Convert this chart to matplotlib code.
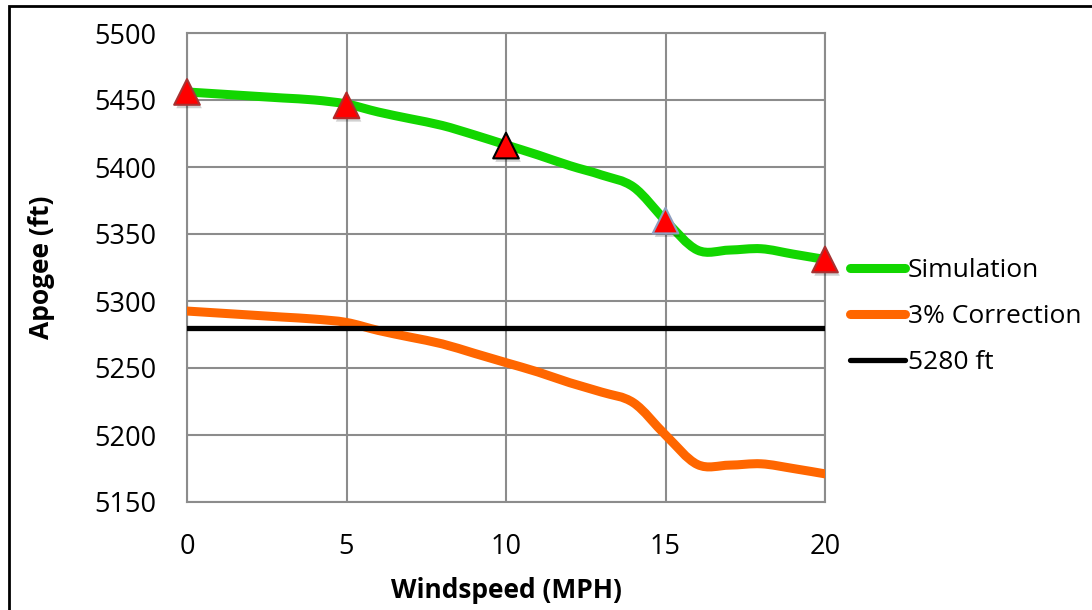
import matplotlib.pyplot as plt
import matplotlib.patheffects as pe
from matplotlib.patches import Rectangle, PathPatch
from matplotlib.path import Path
from matplotlib.lines import Line2D

plt.rcParams['font.family'] = ['Open Sans', 'DejaVu Sans']

# readings, one per mph
windspeed = list(range(21))
simulation = [5456, 5454.5, 5453, 5451.5, 5450, 5447, 5441, 5436, 5431, 5424,
              5416.5, 5409, 5401, 5394, 5385, 5360, 5338, 5338, 5339, 5335, 5331]
correction = [5292.5, 5291, 5289.5, 5288, 5286.5, 5284, 5278, 5273, 5268, 5261,
              5254, 5247, 5239, 5232, 5224, 5200, 5178, 5177.5, 5178.5, 5175, 5171]
target = 5280

# simulated points shown with markers
marker_x = [0, 5, 10, 15, 20]
marker_y = [5456, 5446, 5416, 5360, 5331]
marker_edges = ['#a83232', '#b02a2a', 'black', '#8f9fc0', '#a83232']

xticks = [0, 5, 10, 15, 20]
yticks = [5150, 5200, 5250, 5300, 5350, 5400, 5450, 5500]

GREEN = '#12d600'
ORANGE = '#ff6600'


def smooth_line(ax, x, y, color, lw):
    # Excel-style smoothed line: Catmull-Rom segments as cubic Beziers
    n = len(x)
    verts = [(x[0], y[0])]
    codes = [Path.MOVETO]
    for i in range(n - 1):
        a = max(i - 1, 0)
        d = min(i + 2, n - 1)
        c1 = (x[i] + (x[i + 1] - x[a]) / 6, y[i] + (y[i + 1] - y[a]) / 6)
        c2 = (x[i + 1] - (x[d] - x[i]) / 6, y[i + 1] - (y[d] - y[i]) / 6)
        verts += [c1, c2, (x[i + 1], y[i + 1])]
        codes += [Path.CURVE4] * 3
    ax.add_patch(PathPatch(Path(verts, codes), fill=False, edgecolor=color,
                           lw=lw, capstyle='round', joinstyle='round', zorder=3))


fig = plt.figure(figsize=(10.92, 6.10), dpi=100)
ax = fig.add_axes([187 / 1092, 1 - 502 / 610, 638 / 1092, 469 / 610])

grid = '#8c8c8c'
smooth_line(ax, windspeed, simulation, GREEN, 6.5)
smooth_line(ax, windspeed, correction, ORANGE, 6.5)
ax.plot([windspeed[0], windspeed[-1]], [target, target], color='black', lw=3.8,
        solid_capstyle='round', zorder=3)

ax.scatter(marker_x, marker_y, marker='^', s=340, c='red', edgecolors=marker_edges,
           linewidths=1.5, zorder=4, clip_on=False,
           path_effects=[pe.SimplePatchShadow(offset=(1.5, -2.5), alpha=0.18,
                                              shadow_rgbFace='black'),
                         pe.Normal()])

ax.set_xlim(0, 20)
ax.set_ylim(5150, 5500)
ax.set_xticks(xticks)
ax.set_yticks(yticks)
ax.grid(True, color=grid, lw=1.5)
ax.set_axisbelow(True)
for s in ax.spines.values():
    s.set_color(grid)
    s.set_linewidth(1.5)
ax.tick_params(length=0, labelsize=19.5)
ax.tick_params(axis='y', pad=22)
ax.tick_params(axis='x', pad=22)

ax.set_xlabel('Windspeed (MPH)', fontsize=19, fontweight='bold')
ax.set_ylabel('Apogee (ft)', fontsize=19, fontweight='bold')
ax.xaxis.set_label_coords(0.5, -0.160)
ax.yaxis.set_label_coords(-0.207, 0.5)

handles = [
    Line2D([], [], color=GREEN, lw=6.5, solid_capstyle='round'),
    Line2D([], [], color=ORANGE, lw=6.5, solid_capstyle='round'),
    Line2D([], [], color='black', lw=3.8, solid_capstyle='round'),
]
labels = ['Simulation', '3% Correction', '5280 ft']
ax.legend(handles, labels, loc='upper left', bbox_to_anchor=(850 / 1092, 1 - 258 / 610),
          bbox_transform=fig.transFigure, frameon=False, fontsize=19,
          handlelength=2.1, handletextpad=0.1, labelspacing=0.8,
          borderaxespad=0, borderpad=0)

fig.patches.append(Rectangle((9 / 1092, -0.1), 1.2, 1.1 - 6 / 610,
                             transform=fig.transFigure, fill=False,
                             edgecolor='black', lw=2))

fig.savefig('out.png', dpi=100)
